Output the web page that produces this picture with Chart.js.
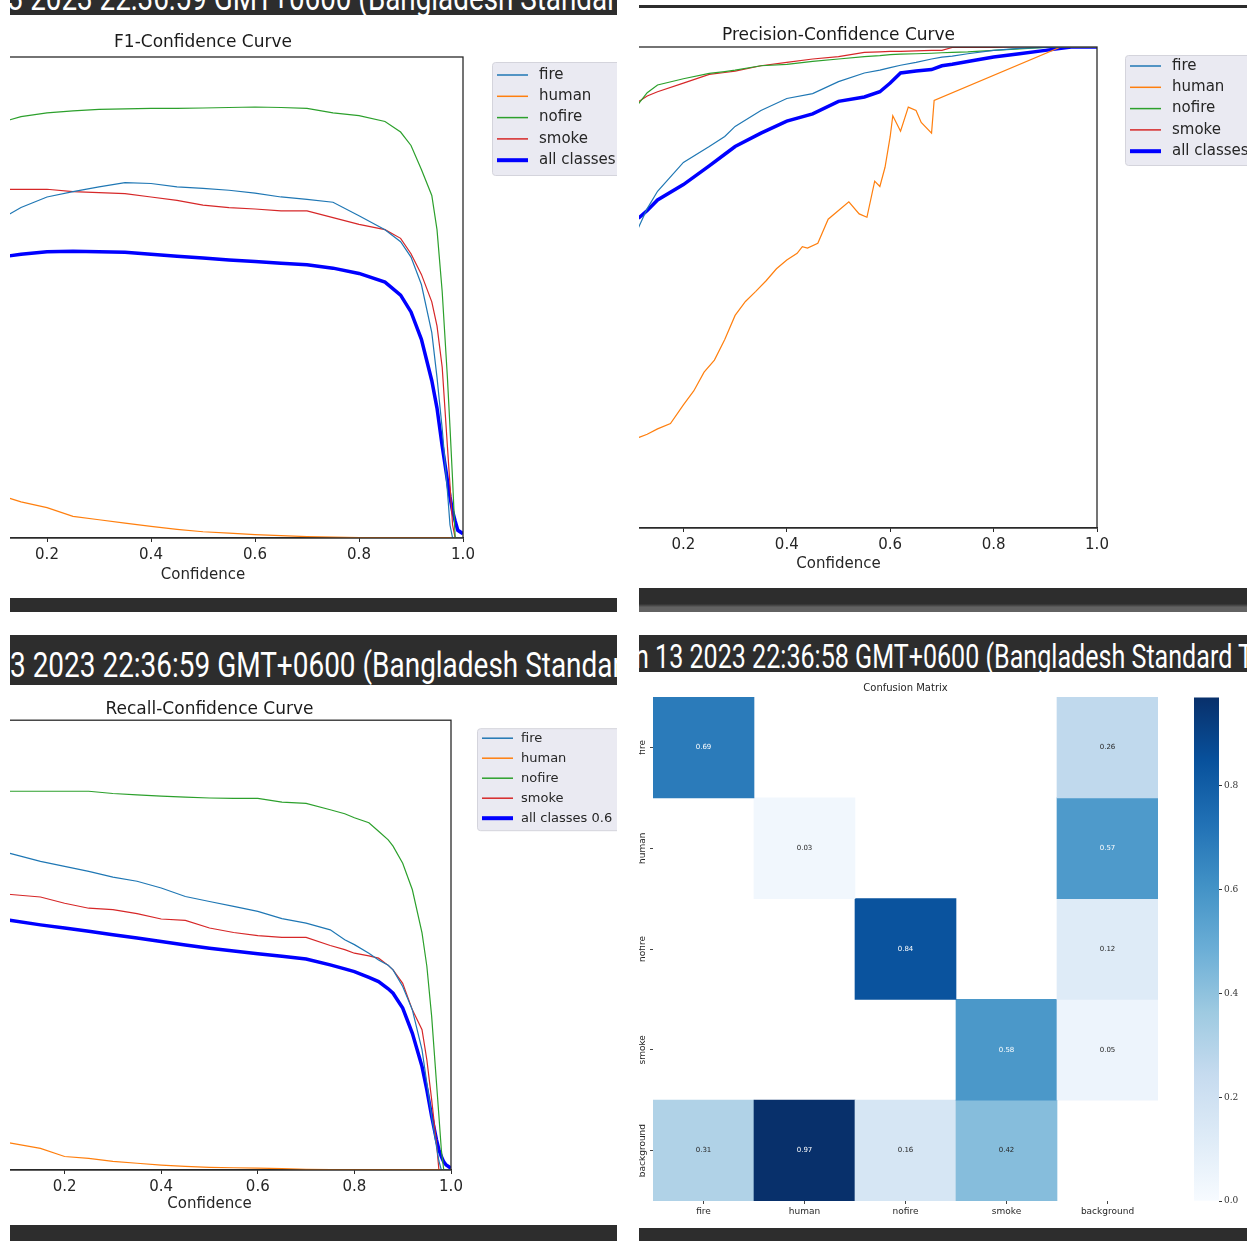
<!DOCTYPE html>
<html>
<head>
<meta charset="utf-8">
<script src="https://cdn.jsdelivr.net/npm/chart.js@4.4.0/dist/chart.umd.min.js"></script>
<style>
  body { margin: 0; width: 1255px; height: 1241px; background: #fff; position: relative; overflow: hidden; }
  .panel { position: absolute; overflow: hidden; background: #fff; }
  .panel canvas { position: absolute; }
  .bar { position: absolute; background: #2d2d2d; overflow: hidden; white-space: nowrap; }
  .bar span { position: absolute; left: 0; color: #fff; line-height: 1; transform-origin: 0 0;
              font-family: "Liberation Sans Narrow", Roboto, "Liberation Sans"; }
</style>
</head>
<body>

<!-- top left: F1 -->
<div class="bar" style="left:10px;top:0;width:607px;height:15px"><span data-w="640" style="font-size:35px;top:-19px;left:-18px">13 2023 22:36:59 GMT+0600 (Bangladesh Standard</span></div>
<div class="panel" style="left:10px;top:15px;width:607px;height:583px">
  <canvas id="f1" width="700" height="598" style="left:-67px;top:-15px"></canvas>
</div>
<div class="bar" style="left:10px;top:598px;width:607px;height:14px"></div>

<!-- top right: precision -->
<div class="bar" style="left:639px;top:5px;width:608px;height:3px"></div>
<div class="panel" style="left:639px;top:8px;width:608px;height:580px">
  <canvas id="pr" width="700" height="588" style="left:-59px;top:-8px"></canvas>
</div>
<div class="bar" style="left:639px;top:588px;width:608px;height:24px;background:linear-gradient(#2d2d2d 0, #2d2d2d 66%, #626262 80%, #626262 100%)"></div>

<!-- bottom left: recall -->
<div class="bar" style="left:10px;top:635px;width:607px;height:50px"><span data-w="612" style="font-size:35px;top:13px">3 2023 22:36:59 GMT+0600 (Bangladesh Standar</span></div>
<div class="panel" style="left:10px;top:685px;width:607px;height:540px">
  <canvas id="rc" width="700" height="540" style="left:-42px;top:0"></canvas>
</div>
<div class="bar" style="left:10px;top:1225px;width:607px;height:16px"></div>

<!-- bottom right: confusion matrix -->
<div class="bar" style="left:639px;top:635px;width:608px;height:37px"><span data-w="618" style="font-size:33px;top:5px;left:-4px">n 13 2023 22:36:58 GMT+0600 (Bangladesh Standard T</span></div>
<div class="panel" style="left:639px;top:672px;width:608px;height:556px">
  <canvas id="cm" width="560" height="553" style="left:-7px;top:0"></canvas>
  <canvas id="cb" width="62" height="520" style="left:549px;top:18px"></canvas>
</div>
<div class="bar" style="left:639px;top:1228px;width:608px;height:13px"></div>

<script>
// F1-Confidence
const f1Conf = [0.124, 0.15, 0.2, 0.25, 0.3, 0.35, 0.4, 0.45, 0.5, 0.55, 0.6, 0.65, 0.7, 0.75, 0.8, 0.85, 0.88, 0.9, 0.92, 0.94, 0.95, 0.96, 0.97, 0.975, 0.98, 0.985, 0.99, 1.0];
const f1Fire = [0.671, 0.687, 0.709, 0.72, 0.73, 0.739, 0.737, 0.73, 0.727, 0.723, 0.717, 0.709, 0.704, 0.698, 0.67, 0.641, 0.616, 0.584, 0.527, 0.427, 0.334, 0.227, 0.098, 0.027, 0, 0, 0, 0];
const f1Human = [0.084, 0.075, 0.063, 0.045, 0.038, 0.031, 0.024, 0.018, 0.013, 0.01, 0.007, 0.005, 0.003, 0.002, 0.001, 0.001, 0.001, 0.001, 0.001, 0.001, 0.001, 0.001, 0.001, 0.001, 0.001, 0, 0, 0];
const f1Nofire = [0.868, 0.876, 0.884, 0.888, 0.891, 0.892, 0.893, 0.893, 0.894, 0.895, 0.896, 0.895, 0.893, 0.884, 0.878, 0.866, 0.844, 0.816, 0.766, 0.712, 0.641, 0.512, 0.334, 0.23, 0.12, 0, 0, 0];
const f1Smoke = [0.725, 0.725, 0.725, 0.72, 0.718, 0.716, 0.709, 0.702, 0.692, 0.687, 0.684, 0.68, 0.68, 0.666, 0.652, 0.641, 0.623, 0.591, 0.548, 0.491, 0.441, 0.355, 0.191, 0.11, 0.027, 0, 0, 0];
const f1All = [0.586, 0.59, 0.595, 0.596, 0.595, 0.594, 0.59, 0.586, 0.582, 0.578, 0.575, 0.571, 0.568, 0.561, 0.55, 0.532, 0.505, 0.47, 0.413, 0.327, 0.27, 0.191, 0.12, 0.085, 0.056, 0.035, 0.016, 0.009];

// Precision-Confidence
const prConf = [0.113, 0.13, 0.15, 0.2, 0.25, 0.28, 0.3, 0.35, 0.4, 0.45, 0.5, 0.55, 0.58, 0.6, 0.62, 0.65, 0.68, 0.7, 0.72, 0.75, 0.8, 0.85, 0.9, 0.95, 1.0];
const prFire = [0.624, 0.664, 0.7, 0.76, 0.793, 0.814, 0.835, 0.868, 0.893, 0.903, 0.928, 0.946, 0.952, 0.957, 0.962, 0.968, 0.975, 0.979, 0.981, 0.986, 0.993, 0.997, 0.999, 1.0, 1.0];
const prNofire = [0.882, 0.905, 0.921, 0.934, 0.945, 0.949, 0.952, 0.961, 0.964, 0.97, 0.975, 0.98, 0.982, 0.984, 0.985, 0.986, 0.987, 0.988, 0.989, 0.99, 0.993, 0.996, 0.999, 1.0, 1.0];
const prSmoke = [0.886, 0.898, 0.907, 0.925, 0.943, 0.947, 0.95, 0.961, 0.968, 0.975, 0.98, 0.989, 0.99, 0.991, 0.991, 0.992, 0.993, 0.993, 0.999, 0.999, 0.999, 1.0, 1.0, 1.0, 1.0];
const prAll = [0.644, 0.66, 0.682, 0.714, 0.753, 0.777, 0.793, 0.821, 0.846, 0.861, 0.887, 0.896, 0.907, 0.925, 0.946, 0.95, 0.953, 0.961, 0.964, 0.97, 0.979, 0.986, 0.993, 1.0, 1.0];
const prHumanConf = [0.113, 0.13, 0.15, 0.175, 0.2, 0.22, 0.24, 0.26, 0.28, 0.3, 0.32, 0.34, 0.36, 0.38, 0.4, 0.42, 0.43, 0.44, 0.46, 0.48, 0.5, 0.52, 0.54, 0.555, 0.57, 0.58, 0.59, 0.6, 0.605, 0.62, 0.635, 0.65, 0.66, 0.68, 0.685, 0.93, 1.0];
const prHuman = [0.188, 0.195, 0.206, 0.217, 0.256, 0.285, 0.324, 0.349, 0.392, 0.442, 0.471, 0.492, 0.514, 0.539, 0.557, 0.571, 0.585, 0.582, 0.592, 0.642, 0.66, 0.678, 0.653, 0.646, 0.721, 0.71, 0.75, 0.814, 0.857, 0.825, 0.875, 0.868, 0.843, 0.821, 0.889, 1.0, 1.0];

// Recall-Confidence
const rcConf = [0.083, 0.15, 0.2, 0.25, 0.3, 0.35, 0.4, 0.45, 0.5, 0.55, 0.6, 0.65, 0.7, 0.75, 0.78, 0.8, 0.83, 0.85, 0.87, 0.88, 0.9, 0.92, 0.94, 0.95, 0.96, 0.97, 0.975, 0.98, 0.985, 0.99, 1.0];
const rcFire = [0.705, 0.686, 0.675, 0.664, 0.651, 0.642, 0.627, 0.608, 0.597, 0.586, 0.575, 0.559, 0.549, 0.534, 0.512, 0.501, 0.482, 0.467, 0.455, 0.445, 0.408, 0.356, 0.267, 0.193, 0.119, 0.052, 0.02, 0, 0, 0, 0];
const rcHuman = [0.061, 0.048, 0.03, 0.026, 0.019, 0.015, 0.011, 0.008, 0.006, 0.005, 0.004, 0.003, 0.0015, 0.001, 0.001, 0.001, 0.001, 0.001, 0.001, 0.001, 0.001, 0.001, 0.001, 0.001, 0.001, 0.001, 0.001, 0, 0, 0, 0];
const rcNofire = [0.842, 0.842, 0.842, 0.842, 0.837, 0.834, 0.831, 0.829, 0.827, 0.826, 0.826, 0.818, 0.815, 0.801, 0.792, 0.783, 0.772, 0.753, 0.734, 0.72, 0.682, 0.623, 0.527, 0.453, 0.341, 0.193, 0.12, 0.045, 0, 0, 0];
const rcSmoke = [0.613, 0.607, 0.593, 0.582, 0.579, 0.57, 0.558, 0.555, 0.538, 0.528, 0.521, 0.517, 0.517, 0.499, 0.49, 0.482, 0.476, 0.471, 0.455, 0.445, 0.415, 0.356, 0.312, 0.245, 0.156, 0.059, 0, 0, 0, 0, 0];
const rcAll = [0.556, 0.545, 0.538, 0.531, 0.523, 0.516, 0.508, 0.5, 0.493, 0.487, 0.481, 0.475, 0.469, 0.456, 0.447, 0.441, 0.428, 0.419, 0.403, 0.393, 0.36, 0.304, 0.23, 0.178, 0.119, 0.067, 0.045, 0.03, 0.018, 0.011, 0.004];

// Confusion matrix (rows: predicted, columns: true)
const cmLabels = ["fire", "human", "nofire", "smoke", "background"];
const cmFire = [0.69, 0, 0, 0, 0.26];
const cmHuman = [0, 0.03, 0, 0, 0.57];
const cmNofire = [0, 0, 0.84, 0, 0.12];
const cmSmoke = [0, 0, 0, 0.58, 0.05];
const cmBackground = [0.31, 0.97, 0.16, 0.42, 0];
const cmRows = [cmFire, cmHuman, cmNofire, cmSmoke, cmBackground];
const cbTicks = [0, 0.2, 0.4, 0.6, 0.8];

const classColors = { fire: "#1f77b4", human: "#ff7f0e", nofire: "#2ca02c", smoke: "#d62728", all: "#0000ff" };
const blues = ["#f7fbff", "#deebf7", "#c6dbef", "#9ecae1", "#6baed6", "#4292c6", "#2171b5", "#08519c", "#08306b"];

Chart.defaults.font.family = "DejaVu Sans";
Chart.defaults.color = "#262626";

function hexRgb(h) {
  return [1, 3, 5].map(i => parseInt(h.slice(i, i + 2), 16));
}

// matplotlib "Blues" lookup
function bluesAt(t) {
  t = Math.max(0, Math.min(1, t)) * (blues.length - 1);
  const i = Math.min(Math.floor(t), blues.length - 2);
  const a = hexRgb(blues[i]), b = hexRgb(blues[i + 1]);
  const f = t - i;
  const c = a.map((v, k) => Math.round(v + (b[k] - v) * f));
  return `rgb(${c[0]},${c[1]},${c[2]})`;
}

// no label overhang, so the axes start exactly at the canvas edge
function fixX(h) {
  return s => { s.height = h; s.paddingLeft = 0; s.paddingRight = 0; };
}

// top and right spines
const frame = {
  id: "frame",
  afterDraw(chart) {
    const { ctx, chartArea: a } = chart;
    ctx.save();
    ctx.strokeStyle = "#2a2a2a";
    ctx.lineWidth = 1.3;
    ctx.strokeRect(a.left, a.top, a.right - a.left, a.bottom - a.top);
    ctx.restore();
  }
};

// matplotlib style legend box, placed right of the axes
const boxLegend = {
  id: "boxLegend",
  afterDraw(chart, args, o) {
    const { ctx, chartArea: a } = chart;
    const x0 = a.right + o.dx, y0 = a.top + o.dy;
    ctx.save();
    ctx.fillStyle = "#eaeaf2";
    ctx.strokeStyle = "#d4d4dc";
    ctx.lineWidth = 1;
    ctx.beginPath();
    ctx.roundRect(x0 + 0.5, y0 + 0.5, 200, o.h, 3);
    ctx.fill();
    ctx.stroke();
    ctx.font = o.size + "px 'DejaVu Sans'";
    ctx.textBaseline = "middle";
    chart.data.datasets.forEach((ds, i) => {
      const y = y0 + o.first + i * o.step;
      ctx.strokeStyle = ds.borderColor;
      ctx.lineWidth = ds.borderWidth > 2 ? 4 : 1.5;
      ctx.beginPath();
      ctx.moveTo(x0 + 5, y);
      ctx.lineTo(x0 + 36, y);
      ctx.stroke();
      ctx.fillStyle = "#262626";
      ctx.fillText(ds.label, x0 + o.tx, y);
    });
    ctx.restore();
  }
};

function series(label, xs, ys, color, width) {
  return {
    label: label,
    data: xs.map((x, i) => ({ x: x, y: ys[i] })),
    borderColor: color,
    borderWidth: width,
    pointRadius: 0,
    tension: 0
  };
}

function curveChart(id, title, datasets, lay) {
  return new Chart(document.getElementById(id), {
    type: "line",
    data: { datasets: datasets },
    options: {
      responsive: false,
      animation: false,
      events: [],
      layout: { padding: lay.pad },
      scales: {
        x: {
          type: "linear", min: 0, max: 1,
          afterFit: fixX(50),
          ticks: { stepSize: 0.2, callback: v => v.toFixed(1), color: "#262626", font: { size: 15 }, padding: 4, maxRotation: 0 },
          grid: { drawOnChartArea: false, tickLength: 4, color: "#2a2a2a" },
          border: { color: "#2a2a2a", width: 1.3 },
          title: { display: true, text: "Confidence", color: "#262626", font: { size: 15 }, padding: { top: 0, bottom: lay.xTitleGap } }
        },
        y: { display: false, min: 0, max: 1 }
      },
      plugins: {
        legend: { display: false },
        tooltip: { enabled: false },
        title: {
          display: true, text: title, fullSize: false, color: "#1a1a1a",
          font: { size: 17, weight: "normal" }, padding: { top: 0, bottom: lay.titleGap }
        },
        boxLegend: lay.legend
      }
    },
    plugins: [frame, boxLegend]
  });
}

curveChart("f1", "F1-Confidence Curve", [
  series("fire", f1Conf, f1Fire, classColors.fire, 1.2),
  series("human", f1Conf, f1Human, classColors.human, 1.2),
  series("nofire", f1Conf, f1Nofire, classColors.nofire, 1.2),
  series("smoke", f1Conf, f1Smoke, classColors.smoke, 1.2),
  series("all classes", f1Conf, f1All, classColors.all, 3.5)
], { pad: { left: 0, right: 180, top: 32, bottom: 10 }, titleGap: 4.6, xTitleGap: 4,
     legend: { dx: 29, dy: 5, h: 113, first: 13, step: 21.3, size: 15, tx: 47 } });

curveChart("pr", "Precision-Confidence Curve", [
  series("fire", prConf, prFire, classColors.fire, 1.2),
  series("human", prHumanConf, prHuman, classColors.human, 1.2),
  series("nofire", prConf, prNofire, classColors.nofire, 1.2),
  series("smoke", prConf, prSmoke, classColors.smoke, 1.2),
  series("all classes", prConf, prAll, classColors.all, 3.5)
], { pad: { left: 0, right: 183, top: 25, bottom: 10 }, titleGap: 1.6, xTitleGap: 5,
     legend: { dx: 28, dy: 8, h: 110, first: 11, step: 21.3, size: 15, tx: 47 } });

curveChart("rc", "Recall-Confidence Curve", [
  series("fire", rcConf, rcFire, classColors.fire, 1.2),
  series("human", rcConf, rcHuman, classColors.human, 1.2),
  series("nofire", rcConf, rcNofire, classColors.nofire, 1.2),
  series("smoke", rcConf, rcSmoke, classColors.smoke, 1.2),
  series("all classes 0.6", rcConf, rcAll, classColors.all, 3.5)
], { pad: { left: 0, right: 217, top: 14, bottom: 5 }, titleGap: 0.8, xTitleGap: 7,
     legend: { dx: 26, dy: 8, h: 102, first: 10, step: 20, size: 13, tx: 44 } });

// cell annotations
const cellText = {
  id: "cellText",
  afterDatasetsDraw(chart) {
    const ctx = chart.ctx;
    ctx.save();
    ctx.font = "7px 'DejaVu Sans'";
    ctx.textAlign = "center";
    ctx.textBaseline = "middle";
    chart.data.datasets.forEach((ds, r) => {
      chart.getDatasetMeta(r).data.forEach((el, c) => {
        const v = ds.values[c];
        if (!(v > 0)) return;
        const rgb = ds.backgroundColor[c].match(/\d+/g).map(Number);
        const lum = (0.299 * rgb[0] + 0.587 * rgb[1] + 0.114 * rgb[2]) / 255;
        ctx.fillStyle = lum < 0.62 ? "#ffffff" : "#262626";
        ctx.fillText(v.toFixed(2), el.x, (el.y + el.base) / 2);
      });
    });
    ctx.restore();
  }
};

// rotated row names, placed on the y scale's row centres
const rowNames = {
  id: "rowNames",
  afterDraw(chart) {
    const { ctx, scales } = chart;
    const y = scales.y;
    ctx.save();
    ctx.font = "9px 'DejaVu Sans'";
    ctx.fillStyle = "#262626";
    ctx.textAlign = "center";
    ctx.textBaseline = "middle";
    cmLabels.forEach((name, i) => {
      ctx.save();
      ctx.translate(chart.chartArea.left - 10, y.getPixelForValue(i + 0.5));
      ctx.rotate(-Math.PI / 2);
      ctx.fillText(name, 0, 0);
      ctx.restore();
    });
    ctx.restore();
  }
};

const cmMax = Math.max(...cmRows.flat());

new Chart(document.getElementById("cm"), {
  type: "bar",
  data: {
    labels: cmLabels,
    datasets: cmRows.map((row, r) => ({
      data: row.map(v => (v > 0 ? [r, r + 1] : null)),
      values: row,
      backgroundColor: row.map(v => bluesAt(v / cmMax)),
      borderWidth: 0,
      barPercentage: 1,
      categoryPercentage: 1,
      grouped: false
    }))
  },
  options: {
    responsive: false,
    animation: false,
    events: [],
    layout: { padding: { left: 0, right: 34, top: 10, bottom: 4 } },
    scales: {
      x: {
        afterFit: fixX(20),
        ticks: { font: { size: 9 }, color: "#262626", padding: 2, maxRotation: 0 },
        grid: { offset: false, drawOnChartArea: false, tickLength: 3, color: "#444" },
        border: { display: false }
      },
      y: {
        type: "linear", reverse: true, min: 0, max: 5,
        afterFit: s => { s.width = 21; },
        afterBuildTicks: s => { s.ticks = cmLabels.map((_, i) => ({ value: i + 0.5 })); },
        ticks: { display: false },
        grid: { drawOnChartArea: false, tickLength: 3, color: "#444" },
        border: { display: false }
      }
    },
    plugins: {
      legend: { display: false },
      tooltip: { enabled: false },
      title: { display: true, text: "Confusion Matrix", fullSize: false, color: "#262626",
               font: { size: 10, weight: "normal" }, padding: { top: 0, bottom: 3 } }
    }
  },
  plugins: [cellText, rowNames]
});

// colour bar
new Chart(document.getElementById("cb"), {
  type: "bar",
  data: {
    labels: [""],
    datasets: [{
      data: [[0, cmMax]],
      barPercentage: 1,
      categoryPercentage: 1,
      borderWidth: 0,
      backgroundColor: c => {
        const a = c.chart.chartArea;
        if (!a) return blues[4];
        const g = c.chart.ctx.createLinearGradient(0, a.bottom, 0, a.top);
        blues.forEach((col, i) => g.addColorStop(i / (blues.length - 1), col));
        return g;
      }
    }]
  },
  options: {
    responsive: false,
    animation: false,
    events: [],
    layout: { padding: { left: 6, right: 0, top: 7, bottom: 9 } },
    scales: {
      x: { display: false },
      y: {
        position: "right", min: 0, max: cmMax,
        afterFit: s => { s.width = 31; },
        afterBuildTicks: s => { s.ticks = cbTicks.map(v => ({ value: v })); },
        ticks: { callback: v => v.toFixed(1), font: { size: 9, family: "DejaVu Serif" }, color: "#333", padding: 2 },
        grid: { drawOnChartArea: false, tickLength: 3, color: "#333" },
        border: { display: false }
      }
    },
    plugins: { legend: { display: false }, tooltip: { enabled: false } }
  }
});

// squeeze the screenshot header strings to their width
document.querySelectorAll(".bar span").forEach(sp => {
  const w = sp.getBoundingClientRect().width;
  sp.style.transform = "scaleX(" + (Number(sp.dataset.w) / w) + ")";
});
</script>
</body>
</html>
